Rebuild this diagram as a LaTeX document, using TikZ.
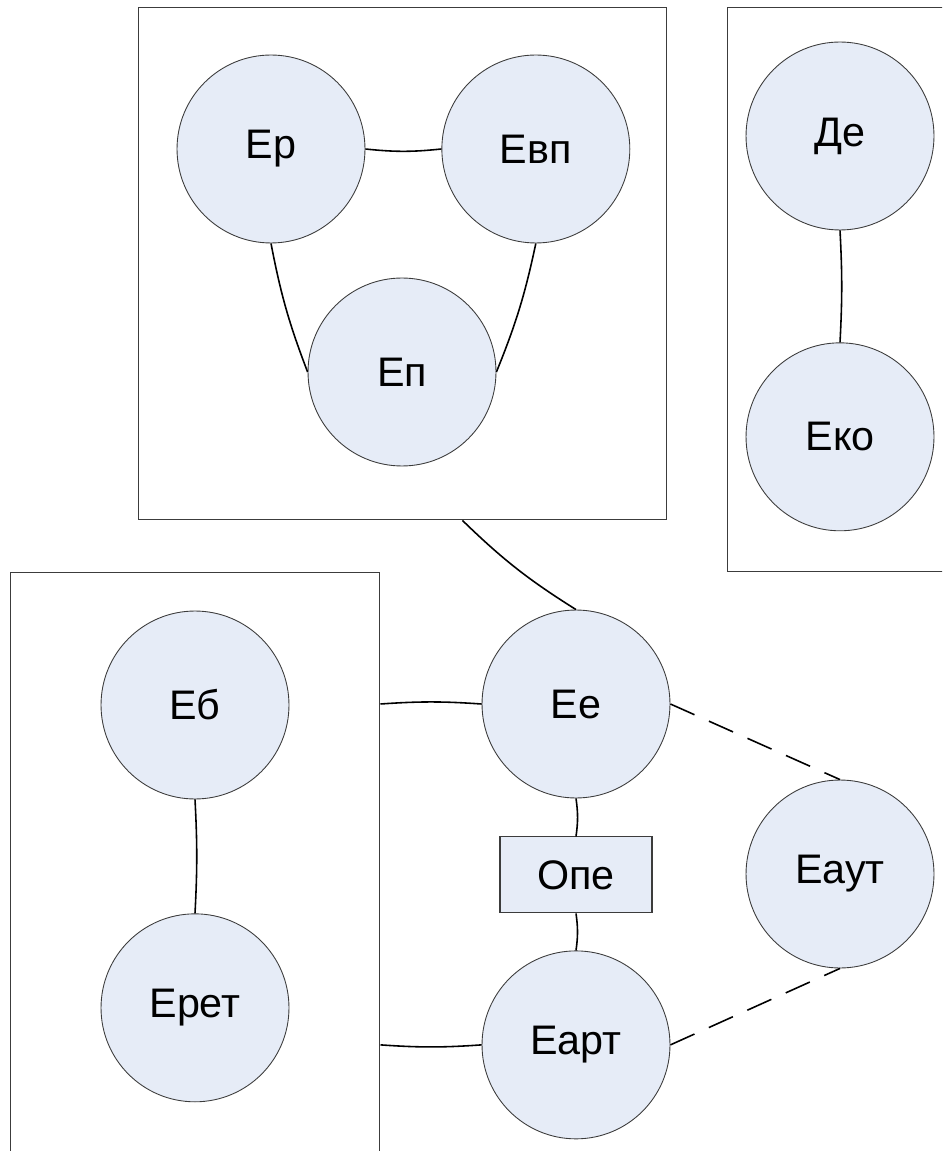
\documentclass[tikz,border=0pt]{standalone}
\usepackage{fontspec}
\setmainfont{Liberation Sans}
\usepackage{tikz}
\usetikzlibrary{arrows.meta, positioning, calc}

\definecolor{entfill}{RGB}{230,236,247}
\definecolor{entline}{RGB}{60,60,60}

\tikzset{
    ent/.style={circle, draw=entline, fill=entfill, line width=0.5pt, minimum size=3.76cm, inner sep=0pt, font=\fontsize{23.5}{28}\selectfont},
    opbox/.style={rectangle, draw=entline, fill=entfill, line width=0.6pt, minimum width=3.04cm, minimum height=1.52cm, inner sep=0pt, font=\fontsize{23.5}{28}\selectfont},
    grp/.style={rectangle, draw=entline, line width=0.6pt, inner sep=0pt},
    link/.style={line width=0.9pt},
    optlink/.style={line width=0.9pt, dash pattern=on 15pt off 9pt}
}

\begin{document}
\begin{tikzpicture}[x=0.02cm, y=-0.02cm]
    \clip (0,0) rectangle (942,1151);

    % groups
    \node (topgrp) [grp, minimum width=10.58cm, minimum height=10.26cm] at (402.5,263.5) {};
    \node (rightgrp) [grp, minimum width=4.46cm, minimum height=11.3cm] at (838.5,289.5) {};
    \node (leftgrp) [grp, minimum width=7.4cm, minimum height=11.76cm] at (195,866) {};

    % entities
    \node (er) [ent] at (271,149) {Ер};
    \node (evp) [ent, right=1.52cm of er] {Евп};
    \node (ep) [ent] at (402,372) {Еп};
    \node (de) [ent] at (840,136) {Де};
    \node (eko) [ent, below=2.24cm of de] {Еко};
    \node (eb) [ent] at (195,705) {Еб};
    \node (eret) [ent, below=2.28cm of eb] {Ерет};
    \node (ee) [ent] at (576,704) {Ее};
    \node (ope) [opbox, below=0.76cm of ee] {Опе};
    \node (eart) [ent, below=0.74cm of ope] {Еарт};
    \node (eaut) [ent] at (840,874) {Еаут};

    \draw[link] (er.east) to[bend right=6] (evp.west);
    \draw[link] (er.south) to[bend right=5] (ep.west);
    \draw[link] (evp.south) to[bend left=5] (ep.east);
    \draw[link] (de.south) to[bend left=3] (eko.north);
    \draw[link] (eb.south) to[bend left=3] (eret.north);
    \draw[link] ([xshift=1.2cm]topgrp.south) to[bend right=6] (ee.north);
    \draw[link] (leftgrp.east |- ee.west) to[bend left=4] (ee.west);
    \draw[link] (leftgrp.east |- eart.west) to[bend right=4] (eart.west);
    \draw[link] (ee.south) to[bend left=8] (ope.north);
    \draw[link] (ope.south) to[bend left=8] (eart.north);
    \draw[optlink] (ee.east) -- (eaut.north);
    \draw[optlink] (eart.east) -- (eaut.south);
\end{tikzpicture}
\end{document}
